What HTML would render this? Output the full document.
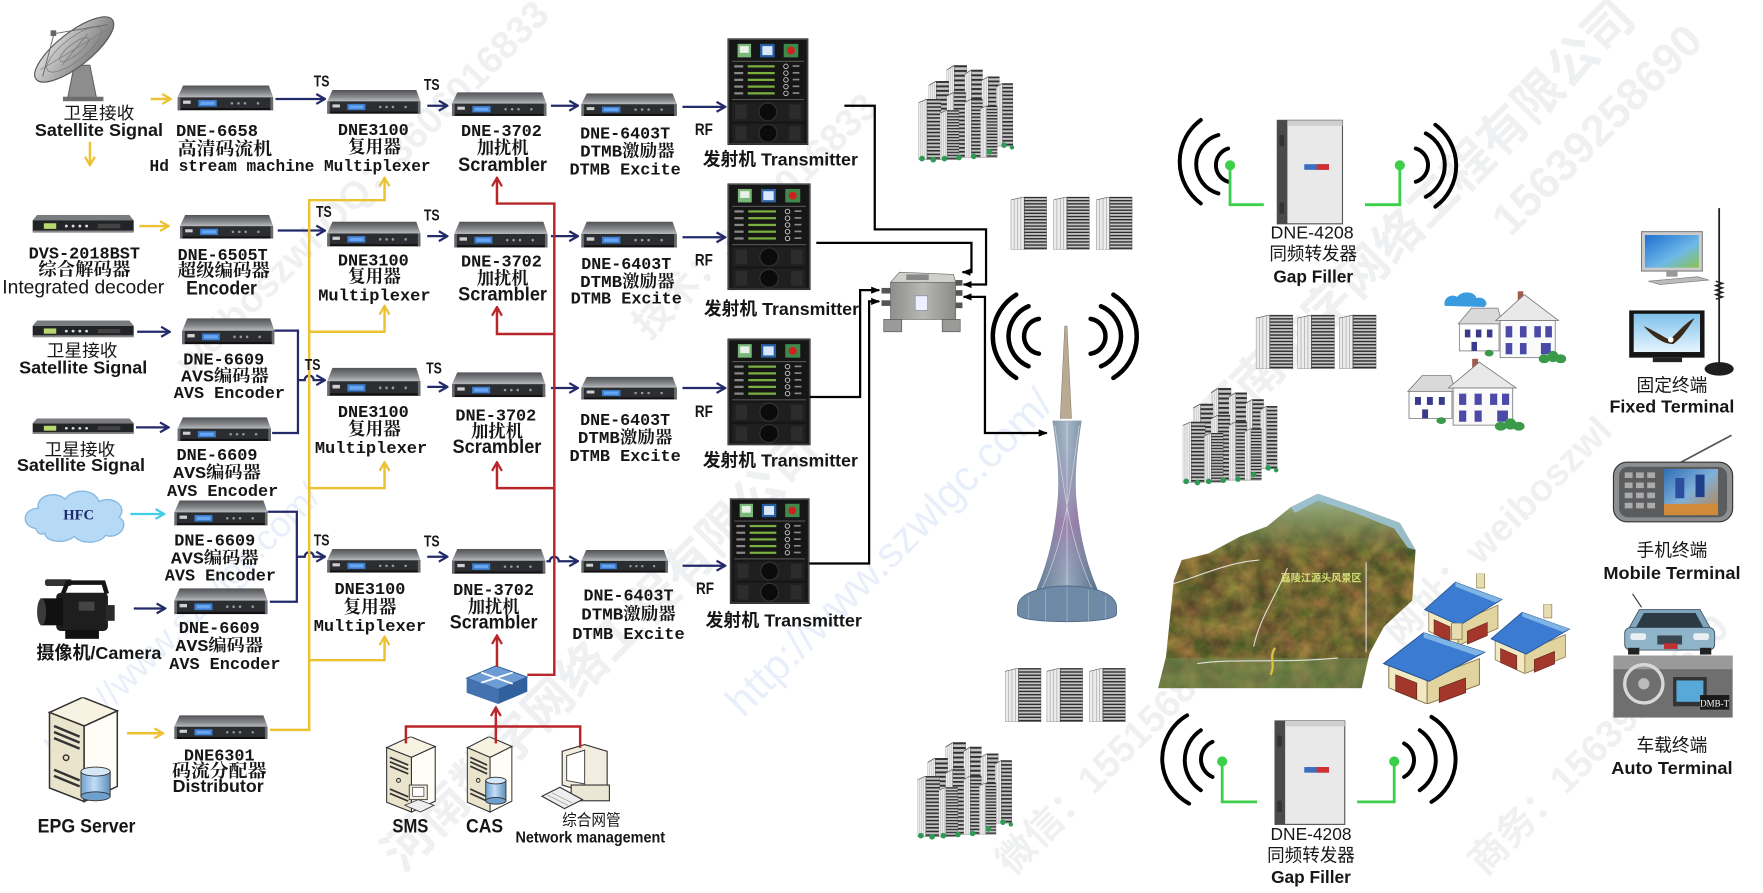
<!DOCTYPE html>
<html><head><meta charset="utf-8"><style>
html,body{margin:0;padding:0;background:#fff;width:1763px;height:893px;overflow:hidden;}
svg{display:block;overflow:hidden;}
.mo{font-family:"Liberation Mono","Noto Serif CJK SC",monospace;font-weight:bold;font-size:15px;fill:#161616;text-anchor:middle;}
.cs{font-family:"Liberation Serif","Noto Serif CJK SC",serif;font-weight:bold;font-size:16px;fill:#161616;text-anchor:middle;}
.sb{font-family:"Liberation Sans","Noto Sans CJK SC",sans-serif;font-weight:bold;font-size:16px;fill:#161616;text-anchor:middle;}
.sr{font-family:"Liberation Sans","Noto Sans CJK SC",sans-serif;font-size:15px;fill:#161616;text-anchor:middle;}
.ts{font-family:"Liberation Sans",sans-serif;font-weight:bold;font-size:14px;fill:#161616;text-anchor:middle;}
.wm{font-family:"Liberation Sans","Noto Sans CJK SC",sans-serif;font-weight:bold;font-size:40px;fill:#7d8a96;opacity:.12;text-anchor:middle;}
.wb{font-family:"Liberation Sans","Noto Sans CJK SC",sans-serif;font-size:38px;fill:#5a8ee0;opacity:.13;text-anchor:middle;}
</style></head><body>
<svg width="1763" height="893" viewBox="0 0 1568 794" preserveAspectRatio="none">
<defs>
<linearGradient id="gtop" x1="0" y1="0" x2="0" y2="1"><stop offset="0" stop-color="#505256"/><stop offset=".6" stop-color="#85878b"/><stop offset="1" stop-color="#b9bbbd"/></linearGradient>
<linearGradient id="gdish" x1="0" y1="0" x2="1" y2="1"><stop offset="0" stop-color="#e4e4e4"/><stop offset=".5" stop-color="#a9a9a9"/><stop offset="1" stop-color="#6d6d6d"/></linearGradient>
<linearGradient id="gcomb" x1="0" y1="0" x2="1" y2="0"><stop offset="0" stop-color="#8e8f8c"/><stop offset=".5" stop-color="#b7b8b4"/><stop offset="1" stop-color="#8a8b88"/></linearGradient>
<linearGradient id="gcyl" x1="0" y1="0" x2="1" y2="0"><stop offset="0" stop-color="#6f9fce"/><stop offset=".45" stop-color="#c3def5"/><stop offset="1" stop-color="#5d8dbd"/></linearGradient>
<linearGradient id="gtow" x1="0" y1="0" x2="1" y2="0"><stop offset="0" stop-color="#5d7690"/><stop offset=".5" stop-color="#a7b8c8"/><stop offset="1" stop-color="#4f6882"/></linearGradient>
<linearGradient id="gtowp" x1="0" y1="0" x2="0" y2="1"><stop offset="0" stop-color="#8fa3b8" stop-opacity="0"/><stop offset=".6" stop-color="#9b6fa3" stop-opacity=".7"/><stop offset="1" stop-color="#6f86a0" stop-opacity=".2"/></linearGradient>
<linearGradient id="gmon" x1="0" y1="0" x2="1" y2="1"><stop offset="0" stop-color="#1f6fcf"/><stop offset=".6" stop-color="#6fb8e8"/><stop offset="1" stop-color="#8bc34a"/></linearGradient>
<linearGradient id="gtv" x1="0" y1="0" x2="0" y2="1"><stop offset="0" stop-color="#7fc0ea"/><stop offset="1" stop-color="#e6f5ff"/></linearGradient>
<linearGradient id="gph" x1="0" y1="0" x2="1" y2="1"><stop offset="0" stop-color="#2f6fb8"/><stop offset=".5" stop-color="#7fb0d8"/><stop offset="1" stop-color="#c08040"/></linearGradient>
<linearGradient id="gmtop" x1="0" y1="0" x2="0" y2="1"><stop offset="0" stop-color="#8fb6c8"/><stop offset=".3" stop-color="#8fa070"/><stop offset="1" stop-color="#6c8a52" stop-opacity="0"/></linearGradient>
<pattern id="hs" width="4" height="3" patternUnits="userSpaceOnUse"><rect width="4" height="3" fill="#c4c4c4"/><rect y="0" width="4" height="1.3" fill="#2e2e2e"/></pattern>
<filter id="terr" x="0" y="0" width="100%" height="100%" color-interpolation-filters="sRGB"><feTurbulence type="fractalNoise" baseFrequency="0.06" numOctaves="4" seed="11"/><feColorMatrix type="matrix" values="0.5 0 0 0 0.2  0.3 0.2 0 0 0.15  0.15 0 0 0 0.12  0 0 0 0 1"/></filter>
<clipPath id="mapc"><polygon points="1030,612 1037,584 1044,516 1051,498 1075,492 1103,477 1127,468 1148,451 1172,439 1207,451 1245,465 1259,489 1256,534 1231,557 1218,581 1211,612"/></clipPath>

<marker id="mn" viewBox="0 0 10 10" refX="9" refY="5" markerWidth="11" markerHeight="11" markerUnits="userSpaceOnUse" orient="auto"><path d="M2,1 L9,5 L2,9" fill="none" stroke="#232a6a" stroke-width="1.8"/></marker>
<marker id="my" viewBox="0 0 10 10" refX="9" refY="5" markerWidth="11" markerHeight="11" markerUnits="userSpaceOnUse" orient="auto"><path d="M2,1 L9,5 L2,9" fill="none" stroke="#ecc232" stroke-width="1.8"/></marker>
<marker id="mr" viewBox="0 0 10 10" refX="9" refY="5" markerWidth="11" markerHeight="11" markerUnits="userSpaceOnUse" orient="auto"><path d="M2,1 L9,5 L2,9" fill="none" stroke="#b8262a" stroke-width="1.8"/></marker>
<marker id="mc" viewBox="0 0 10 10" refX="9" refY="5" markerWidth="11" markerHeight="11" markerUnits="userSpaceOnUse" orient="auto"><path d="M2,1 L9,5 L2,9" fill="none" stroke="#3fcde8" stroke-width="1.8"/></marker>
<marker id="mk" viewBox="0 0 10 10" refX="9" refY="5" markerWidth="8" markerHeight="8" markerUnits="userSpaceOnUse" orient="auto-start-reverse"><path d="M0,1 L10,5 L0,9 z" fill="#000"/></marker>

<symbol id="rk" viewBox="0 0 88 24" preserveAspectRatio="none">
<polygon points="5,0 84,0 88,11 0,11" fill="url(#gtop)"/>
<rect x="0" y="11" width="88" height="11" fill="#2b2d31"/>
<rect x="0" y="21" width="88" height="2" fill="#111"/>
<rect x="0" y="11" width="2.5" height="12" fill="#6a6c70"/>
<rect x="85.5" y="11" width="2.5" height="12" fill="#6a6c70"/>
<rect x="5" y="14" width="7" height="3" fill="#d0d0d0"/>
<rect x="19" y="13.5" width="17" height="6" fill="#3b7fd3"/>
<rect x="21" y="15" width="13" height="3" fill="#6aa6ef"/>
<circle cx="50" cy="16.5" r="1.2" fill="#999"/><circle cx="56" cy="16.5" r="1.2" fill="#999"/><circle cx="62" cy="16.5" r="1.2" fill="#999"/><circle cx="74" cy="16.5" r="1.2" fill="#999"/>
</symbol>

<symbol id="srx" viewBox="0 0 90 16" preserveAspectRatio="none">
<polygon points="4,0 86,0 90,5 0,5" fill="#7a7c80"/>
<rect x="0" y="5" width="90" height="10" fill="#232427"/>
<rect x="0" y="14" width="90" height="2" fill="#8a8a8a"/>
<rect x="10" y="7.5" width="11" height="5" fill="#b8d870"/>
<circle cx="30" cy="10" r="1.3" fill="#ddd"/><circle cx="36" cy="10" r="1.3" fill="#ddd"/><circle cx="42" cy="10" r="1.3" fill="#ddd"/><circle cx="48" cy="10" r="1.3" fill="#ddd"/>
<rect x="58" y="8" width="20" height="4" fill="#444"/>
</symbol>

<symbol id="tx" viewBox="0 0 72 95" preserveAspectRatio="none">
<rect x="0" y="0" width="72" height="95" fill="#161616"/>
<rect x="1" y="1" width="70" height="93" fill="none" stroke="#4a4a4a"/>
<rect x="9" y="5" width="12" height="12" fill="#7ab87a"/><rect x="11" y="7" width="8" height="6" fill="#e8f0e8"/>
<rect x="29" y="5" width="13" height="12" fill="#2a5fa8"/><rect x="31" y="7" width="9" height="8" fill="#d8e8f8"/>
<rect x="50" y="5" width="13" height="12" fill="#3f8a4a"/><circle cx="56.5" cy="11" r="3.5" fill="#d02020"/>
<rect x="4" y="20" width="64" height="1" fill="#555"/>
<g fill="#7ab040"><rect x="18" y="24" width="24" height="2"/><rect x="18" y="30" width="24" height="2"/><rect x="18" y="36" width="24" height="2"/><rect x="18" y="42" width="24" height="2"/><rect x="18" y="48" width="24" height="2"/></g>
<g fill="#888"><rect x="6" y="24" width="8" height="2"/><rect x="6" y="30" width="8" height="2"/><rect x="6" y="36" width="8" height="2"/><rect x="6" y="42" width="8" height="2"/><rect x="6" y="48" width="8" height="2"/>
<rect x="58" y="24" width="6" height="1.5"/><rect x="58" y="30" width="6" height="1.5"/><rect x="58" y="36" width="6" height="1.5"/><rect x="58" y="42" width="6" height="1.5"/><rect x="58" y="48" width="6" height="1.5"/></g>
<g fill="none" stroke="#ccc" stroke-width=".8"><circle cx="52" cy="25" r="2"/><circle cx="52" cy="31" r="2"/><circle cx="52" cy="37" r="2"/><circle cx="52" cy="43" r="2"/><circle cx="52" cy="49" r="2"/></g>
<rect x="4" y="54" width="64" height="1" fill="#555"/>
<rect x="4" y="57" width="64" height="17" fill="#1f1f1f"/>
<rect x="7" y="59" width="10" height="13" fill="#2c2c2c"/><rect x="55" y="59" width="10" height="13" fill="#2c2c2c"/>
<circle cx="36" cy="65.5" r="8" fill="#0b0b0b" stroke="#333"/>
<rect x="4" y="76" width="64" height="17" fill="#1f1f1f"/>
<rect x="7" y="78" width="10" height="13" fill="#2c2c2c"/><rect x="55" y="78" width="10" height="13" fill="#2c2c2c"/>
<circle cx="36" cy="84.5" r="8" fill="#0b0b0b" stroke="#333"/>
</symbol>

<symbol id="bd" viewBox="0 0 32 50" preserveAspectRatio="none">
<polygon points="0,3 12,0 12,50 0,50" fill="#ececec" stroke="#555" stroke-width=".6"/>
<g stroke="#999" stroke-width=".5"><line x1="3" y1="3" x2="3" y2="50"/><line x1="6" y1="2" x2="6" y2="50"/><line x1="9" y1="1" x2="9" y2="50"/></g>
<rect x="12" y="0" width="20" height="50" fill="url(#hs)" stroke="#444" stroke-width=".6"/>
</symbol>

<g id="cl">
<use href="#bd" x="842" y="58" width="18" height="70"/>
<use href="#bd" x="858" y="62" width="16" height="68"/>
<use href="#bd" x="873" y="68" width="16" height="60"/>
<use href="#bd" x="886" y="74" width="15" height="56"/>
<use href="#bd" x="826" y="72" width="18" height="66"/>
<use href="#bd" x="842" y="82" width="17" height="58"/>
<use href="#bd" x="858" y="88" width="16" height="52"/>
<use href="#bd" x="872" y="94" width="15" height="46"/>
<use href="#bd" x="817" y="88" width="20" height="54"/>
<use href="#bd" x="836" y="98" width="17" height="44"/>
<g fill="#2f9a55"><circle cx="820" cy="141" r="2.5"/><circle cx="830" cy="142" r="2.5"/><circle cx="840" cy="141" r="2.5"/><circle cx="853" cy="140" r="2.5"/><circle cx="866" cy="139" r="2.5"/><circle cx="880" cy="135" r="2.5"/><circle cx="893" cy="129" r="2.5"/><circle cx="900" cy="131" r="2"/></g>
</g>

<symbol id="sv" viewBox="0 0 50 70" preserveAspectRatio="none">
<polygon points="3,10 25,0 48,9 26,19" fill="#f7f2e2" stroke="#333" stroke-width="1"/>
<polygon points="3,10 26,19 26,69 3,60" fill="#ebe4cd" stroke="#333" stroke-width="1"/>
<polygon points="26,19 48,9 48,59 26,69" fill="#fffdf6" stroke="#333" stroke-width="1"/>
<g stroke="#333" stroke-width="1.6"><line x1="6" y1="19" x2="23" y2="26"/><line x1="6" y1="23" x2="23" y2="30"/><line x1="6" y1="27" x2="23" y2="34"/><line x1="6" y1="48" x2="23" y2="55"/><line x1="6" y1="52" x2="23" y2="59"/></g>
<circle cx="14" cy="40" r="1.8" fill="none" stroke="#333"/>
</symbol>

<symbol id="wh" viewBox="0 0 100 65" preserveAspectRatio="none">
<polygon points="2,30 14,16 38,16 42,30" fill="#d9d9d9" stroke="#777" stroke-width=".7"/>
<rect x="3" y="30" width="36" height="24" fill="#fff" stroke="#777" stroke-width=".7"/>
<g fill="#3a3a8c"><rect x="8" y="35" width="5" height="7"/><rect x="18" y="35" width="5" height="7"/><rect x="28" y="35" width="5" height="7"/><rect x="14" y="46" width="5" height="8"/></g>
<rect x="56" y="1" width="5" height="10" fill="#a05a4a"/>
<polygon points="36,27 62,4 93,27" fill="#e9e9e9" stroke="#777" stroke-width=".7"/>
<rect x="40" y="27" width="50" height="33" fill="#fafafa" stroke="#777" stroke-width=".7"/>
<g fill="#4b4aa8"><rect x="45" y="32" width="6" height="10"/><rect x="58" y="32" width="6" height="10"/><rect x="71" y="32" width="6" height="10"/><rect x="81" y="32" width="6" height="10"/><rect x="45" y="47" width="6" height="10"/><rect x="58" y="47" width="6" height="10"/><rect x="77" y="47" width="9" height="10"/></g>
<g fill="#3a9a4a"><ellipse cx="80" cy="61" rx="5" ry="4"/><ellipse cx="88" cy="59" rx="5" ry="5"/><ellipse cx="95" cy="61" rx="5" ry="4"/><ellipse cx="30" cy="56" rx="4" ry="3"/></g>
</symbol>

<symbol id="bh" viewBox="0 0 60 50" preserveAspectRatio="none">
<polygon points="4,24 26,34 26,50 4,40" fill="#f2e9c2" stroke="#8a7a50" stroke-width=".6"/>
<polygon points="26,34 56,22 56,38 26,50" fill="#e2d49f" stroke="#8a7a50" stroke-width=".6"/>
<rect x="40" y="0" width="6" height="10" fill="#e8ddb0" stroke="#8a7a50" stroke-width=".5"/>
<polygon points="1,25 24,6 59,18 27,36" fill="#3b7bd2" stroke="#24518e" stroke-width=".6"/>
<polygon points="24,6 59,18 54,20 24,9" fill="#7fb5e6"/>
<polygon points="8,32 20,37 20,47 8,42" fill="#a3372c" stroke="#6a2a20" stroke-width=".5"/>
<polygon points="33,40 48,34 48,43 33,49" fill="#a3372c" stroke="#6a2a20" stroke-width=".5"/>
</symbol>
</defs>

<rect x="0" y="0" width="1568" height="794" fill="#fff"/>

<!-- watermarks (kept inside frame) -->
<g>
<text class="wm" x="545" y="590" transform="rotate(-45 545 590)" style="font-size:44px">河南数字网络工程有限公司</text>
<text class="wb" x="800" y="500" transform="rotate(-45 800 500)">http://www.szwlgc.com/</text>
<text class="wm" x="330" y="175" transform="rotate(-45 330 175)" style="font-size:34px">weiboszwl QQ：3606016833</text>
<text class="wm" x="1270" y="205" transform="rotate(-45 1270 205)" style="font-size:44px">河南数字网络工程有限公司</text>
<text class="wm" x="1430" y="125" transform="rotate(-45 1430 125)">15639258690</text>
<text class="wm" x="1010" y="670" transform="rotate(-45 1010 670)" style="font-size:34px">微信：15515688892</text>
<text class="wb" x="170" y="560" transform="rotate(-45 170 560)" style="font-size:32px">http://www.szwlgc.com/</text>
<text class="wm" x="1340" y="480" transform="rotate(-45 1340 480)" style="font-size:34px">网址：weiboszwl</text>
<text class="wm" x="680" y="200" transform="rotate(-45 680 200)" style="font-size:34px">技术：3606016833</text>
<text class="wm" x="1430" y="670" transform="rotate(-45 1430 670)" style="font-size:34px">商务：15639258690</text>
</g>

<!-- ===== LEFT: sources ===== -->
<g>
<polygon points="66,58 80,58 86,88 60,88" fill="#8d8d8d" stroke="#555" stroke-width=".8"/>
<rect x="56" y="86" width="36" height="4" fill="#6d6d6d"/>
<ellipse cx="66" cy="44" rx="43" ry="15" transform="rotate(-38 66 44)" fill="url(#gdish)" stroke="#555" stroke-width="1"/>
<g stroke="#777" stroke-width=".6" fill="none"><ellipse cx="66" cy="44" rx="30" ry="10" transform="rotate(-38 66 44)"/><ellipse cx="66" cy="44" rx="16" ry="5" transform="rotate(-38 66 44)"/><line x1="36" y1="62" x2="96" y2="26"/><line x1="55" y1="58" x2="78" y2="30"/></g>
<g stroke="#666" stroke-width=".8"><line x1="38" y1="68" x2="48" y2="30"/><line x1="96" y1="22" x2="48" y2="30"/></g>
<rect x="45" y="27" width="5" height="5" fill="#666"/>
</g>

<use href="#rk" x="158" y="76" width="85" height="23"/>
<use href="#rk" x="291" y="80" width="83" height="22"/>
<use href="#rk" x="402" y="82" width="84" height="22"/>
<use href="#rk" x="517" y="83" width="85" height="21"/>

<use href="#srx" x="29" y="191" width="90" height="16"/>
<use href="#rk" x="160" y="191" width="83" height="22"/>
<use href="#rk" x="291" y="197" width="83" height="23"/>
<use href="#rk" x="404" y="197" width="83" height="24"/>
<use href="#rk" x="517" y="197" width="85" height="24"/>

<use href="#srx" x="29" y="285" width="90" height="15"/>
<use href="#rk" x="162" y="283" width="82" height="24"/>
<use href="#rk" x="291" y="327" width="83" height="26"/>
<use href="#rk" x="402" y="331" width="83" height="23"/>
<use href="#rk" x="517" y="335" width="85" height="21"/>

<use href="#srx" x="29" y="372" width="90" height="14"/>
<use href="#rk" x="158" y="371" width="83" height="22"/>

<use href="#rk" x="155" y="445" width="83" height="23"/>
<use href="#rk" x="291" y="488" width="83" height="22"/>
<use href="#rk" x="402" y="488" width="83" height="23"/>
<use href="#rk" x="517" y="489" width="77" height="21"/>

<use href="#rk" x="155" y="523" width="83" height="24"/>
<use href="#rk" x="155" y="636" width="83" height="22"/>

<use href="#tx" x="647" y="34" width="72" height="95"/>
<use href="#tx" x="647" y="163" width="74" height="95"/>
<use href="#tx" x="647" y="301" width="74" height="95"/>
<use href="#tx" x="649" y="443" width="71" height="94"/>

<g>
<path d="M32,470 C18,468 20,452 34,452 C32,440 50,436 58,444 C64,434 84,434 88,446 C100,440 114,450 106,460 C116,466 106,480 94,476 C88,484 72,484 66,477 C58,484 40,482 40,474 C36,476 33,474 32,470 Z" fill="#b6daf6" stroke="#86b8e2" stroke-width="1.2"/>
<text x="70" y="462" style="font-family:'Liberation Serif',serif;font-weight:bold;font-size:13px;fill:#1a2a6a;text-anchor:middle">HFC</text>
</g>

<g>
<rect x="40" y="515" width="24" height="6" rx="2" fill="#333"/>
<path d="M56,528 L60,518 L92,518 L95,528" fill="none" stroke="#151515" stroke-width="4"/>
<rect x="50" y="527" width="46" height="34" rx="4" fill="#1e1e1e"/>
<rect x="36" y="532" width="20" height="24" fill="#111"/>
<ellipse cx="37" cy="544" rx="4" ry="12" fill="#3a3a3a"/>
<rect x="94" y="538" width="8" height="14" fill="#2a2a2a"/>
<rect x="58" y="560" width="30" height="8" fill="#111"/>
<rect x="70" y="535" width="14" height="8" fill="#444"/>
</g>

<use href="#sv" x="40" y="620" width="67" height="94"/>
<g>
<rect x="72" y="686" width="26" height="22" fill="url(#gcyl)" stroke="#333" stroke-width=".8"/>
<ellipse cx="85" cy="708" rx="13" ry="4" fill="#6f9fce" stroke="#333" stroke-width=".8"/>
<ellipse cx="85" cy="686" rx="13" ry="4" fill="#d6e8f8" stroke="#333" stroke-width=".8"/>
</g>

<use href="#sv" x="341" y="655" width="48" height="68"/>
<g>
<rect x="364" y="698" width="16" height="13" fill="#f3eee0" stroke="#333" stroke-width=".8"/>
<rect x="367" y="700" width="10" height="8" fill="#fff" stroke="#333" stroke-width=".6"/>
<polygon points="360,716 372,711 386,716 374,722" fill="#eee" stroke="#333" stroke-width=".7"/>
</g>
<use href="#sv" x="413" y="655" width="44" height="68"/>
<g>
<rect x="432" y="694" width="18" height="18" fill="url(#gcyl)" stroke="#333" stroke-width=".8"/>
<ellipse cx="441" cy="712" rx="9" ry="3" fill="#6f9fce" stroke="#333" stroke-width=".8"/>
<ellipse cx="441" cy="694" rx="9" ry="3" fill="#d6e8f8" stroke="#333" stroke-width=".8"/>
</g>
<g>
<polygon points="500,668 520,662 540,668 540,698 520,704 500,698" fill="#f2ede0" stroke="#333" stroke-width="1"/>
<polygon points="504,672 520,667 520,697 504,694" fill="#fff" stroke="#333" stroke-width=".8"/>
<rect x="508" y="698" width="34" height="14" fill="#ece6d4" stroke="#333" stroke-width="1"/>
<polygon points="482,708 498,700 518,711 502,719" fill="#eee" stroke="#333" stroke-width="1"/>
<g stroke="#888" stroke-width=".5"><line x1="487" y1="707" x2="505" y2="716"/><line x1="491" y1="705" x2="509" y2="714"/></g>
</g>

<g>
<polygon points="415,603 441,592 469,602 443,613" fill="#6d9bd3" stroke="#2e5a93" stroke-width=".8"/>
<polygon points="415,603 443,613 443,626 415,616" fill="#4472b0"/>
<polygon points="443,613 469,602 469,615 443,626" fill="#31609e"/>
<g stroke="#fff" stroke-width="1.6" fill="none"><line x1="428" y1="598" x2="456" y2="608"/><line x1="428" y1="607" x2="456" y2="598"/></g>
</g>

<!-- ===== CONNECTORS ===== -->
<g fill="none" stroke="#232a6a" stroke-width="2" marker-end="url(#mn)">
<path d="M245,88 H289"/><path d="M380,94 H398"/><path d="M490,94 H514"/><path d="M607,95 H645"/>
<path d="M247,205 H289"/><path d="M380,210 H398"/><path d="M490,210 H514"/><path d="M607,211 H645"/>
<path d="M122,295 H151"/><path d="M265,338 H271 A4,4 0 0 1 279,338 H289"/><path d="M380,344 H398"/><path d="M490,345 H514"/><path d="M607,345 H645"/>
<path d="M121,380 H150"/>
<path d="M264,495 H271 A4,4 0 0 1 279,495 H289"/><path d="M380,495 H398"/><path d="M486,499 H489 A4,4 0 0 1 497,499 H514"/><path d="M607,503 H645"/>
<path d="M119,541 H147"/>
</g>
<g fill="none" stroke="#232a6a" stroke-width="2">
<path d="M244,294 H265 V385 H242"/>
<path d="M238,455 H264 V535 H240"/>
</g>
<path d="M116,457 H146" fill="none" stroke="#3fcde8" stroke-width="2" marker-end="url(#mc)"/>

<g fill="none" stroke="#ecc232" stroke-width="2.2">
<path d="M134,88 H152" marker-end="url(#my)"/>
<path d="M80,126 V147" marker-end="url(#my)"/>
<path d="M124,201 H150" marker-end="url(#my)"/>
<path d="M113,652 H145" marker-end="url(#my)"/>
<path d="M240,649 H275 V178 H342 V158" marker-end="url(#my)"/>
<path d="M275,295 H342 V272" marker-end="url(#my)"/>
<path d="M275,434 H342 V411" marker-end="url(#my)"/>
<path d="M275,587 H342 V566" marker-end="url(#my)"/>
</g>

<g fill="none" stroke="#b8262a" stroke-width="2.2">
<path d="M469,600 H493 V181 H442 V158" marker-end="url(#mr)"/>
<path d="M493,297 H442 V273" marker-end="url(#mr)"/>
<path d="M493,434 H442 V411" marker-end="url(#mr)"/>
<path d="M442,593 V565" marker-end="url(#mr)"/>
<path d="M361,661 V646 H516 V665"/>
<path d="M441,661 V646"/>
<path d="M441,646 V629" marker-end="url(#mr)"/>
</g>

<g fill="none" stroke="#000" stroke-width="2">
<path d="M751,94 H778 V204 H877 V253 H857" marker-end="url(#mk)"/>
<path d="M726,216 H864 V242 H856" marker-end="url(#mk)"/>
<path d="M720,353 H765 V258 H782" marker-end="url(#mk)"/>
<path d="M720,501 H773 V268 H782" marker-end="url(#mk)"/>
<path d="M857,264 H876 V385 H931" marker-start="url(#mk)" marker-end="url(#mk)"/>
</g>

<!-- combiner -->
<g>
<polygon points="792,251 800,242 848,244 850,251" fill="#cfd0cc" stroke="#666" stroke-width=".6"/>
<rect x="792" y="251" width="58" height="33" fill="url(#gcomb)" stroke="#666" stroke-width=".6"/>
<g fill="#555"><rect x="784" y="256" width="8" height="5"/><rect x="784" y="267" width="8" height="5"/><rect x="850" y="249" width="6" height="5"/><rect x="850" y="258" width="6" height="5"/><rect x="850" y="269" width="6" height="5"/></g>
<rect x="786" y="284" width="16" height="11" fill="#9a9b98" stroke="#555" stroke-width=".6"/>
<rect x="838" y="284" width="16" height="11" fill="#9a9b98" stroke="#555" stroke-width=".6"/>
<rect x="814" y="263" width="11" height="13" fill="#eef0ff" stroke="#88a" stroke-width=".6"/>
<rect x="806" y="244" width="20" height="5" fill="#888"/>
</g>

<!-- tower -->
<g>
<polygon points="947,290 949,290 953,372 943,372" fill="#b9aa92" stroke="#8a7d6a" stroke-width=".5"/>
<path d="M936,374 L962,374 C958,400 956,420 957,440 C960,480 968,505 977,526 L921,526 C930,505 938,480 941,440 C942,420 940,400 936,374 Z" fill="url(#gtow)"/>
<path d="M936,374 L962,374 C958,400 956,420 957,440 C960,480 968,505 977,526 L921,526 C930,505 938,480 941,440 C942,420 940,400 936,374 Z" fill="url(#gtowp)"/>
<g stroke="#dfe7ef" stroke-width=".6" fill="none" opacity=".8"><path d="M938,378 C946,430 950,480 972,525"/><path d="M960,378 C952,430 948,480 926,525"/><line x1="949" y1="376" x2="949" y2="525"/></g>
<path d="M905,540 C905,526 930,521 949,521 C968,521 993,526 993,540 L993,546 C993,555 905,555 905,546 Z" fill="#6f8aa6" stroke="#4f6882" stroke-width=".8"/>
<g stroke="#b5c4d2" stroke-width=".5"><line x1="915" y1="530" x2="915" y2="550"/><line x1="930" y1="525" x2="930" y2="552"/><line x1="949" y1="522" x2="949" y2="553"/><line x1="968" y1="525" x2="968" y2="552"/><line x1="983" y1="530" x2="983" y2="550"/></g>
</g>
<g fill="none" stroke="#000" stroke-width="4" stroke-linecap="round">
<path d="M924,283.5 A15.7,15.7 0 0 0 924,314.5"/>
<path d="M914.8,272.3 A28.9,28.9 0 0 0 914.8,325.7"/>
<path d="M903.8,262 A43.3,43.3 0 0 0 903.8,336"/>
<path d="M970,283.5 A15.7,15.7 0 0 1 970,314.5"/>
<path d="M979.2,272.3 A28.9,28.9 0 0 1 979.2,325.7"/>
<path d="M990.2,262 A43.3,43.3 0 0 1 990.2,336"/>
</g>

<!-- buildings -->
<use href="#cl"/>
<use href="#cl" transform="translate(-1,602)"/>
<use href="#cl" transform="translate(235,287)"/>
<use href="#bd" x="899" y="175" width="32" height="47"/><use href="#bd" x="937" y="175" width="32" height="47"/><use href="#bd" x="975" y="175" width="32" height="47"/>
<use href="#bd" x="1117" y="280" width="33" height="48"/><use href="#bd" x="1154" y="280" width="33" height="48"/><use href="#bd" x="1191" y="280" width="33" height="48"/>
<use href="#bd" x="894" y="594" width="32" height="48"/><use href="#bd" x="931" y="594" width="32" height="48"/><use href="#bd" x="969" y="594" width="32" height="48"/>

<!-- gap filler top -->
<g>
<rect x="1136" y="107" width="58" height="92" fill="#e9e9e9" stroke="#555" stroke-width="1"/>
<rect x="1136" y="107" width="9" height="92" fill="#4a4a4a"/>
<rect x="1145" y="107" width="49" height="5" fill="#cfcfcf"/>
<rect x="1160" y="146" width="22" height="5" fill="#3a6fc0"/><rect x="1171" y="146" width="11" height="5" fill="#d03030"/>
<rect x="1138" y="120" width="4" height="10" fill="#333"/><rect x="1138" y="180" width="4" height="10" fill="#333"/>
</g>
<g fill="none" stroke="#000" stroke-width="3.5" stroke-linecap="round">
<path d="M1068,106.7 A46,46 0 0 0 1068,180.9"/>
<path d="M1083.6,120 A27,27 0 0 0 1083.6,172"/>
<path d="M1092.3,132 A15.5,15.5 0 0 0 1092.3,161.6"/>
<path d="M1259.2,132 A15.5,15.5 0 0 1 1259.2,161.6"/>
<path d="M1268.1,118.6 A32,32 0 0 1 1268.1,175"/>
<path d="M1276.6,111 A45,45 0 0 1 1276.6,183.8"/>
</g>
<g fill="none" stroke="#3cd04a" stroke-width="2.5"><path d="M1094,147 V182 H1124"/><path d="M1245,147 V182 H1214"/></g>
<g fill="#3cd04a"><circle cx="1094" cy="147" r="4.5"/><circle cx="1245" cy="147" r="4.5"/></g>

<!-- gap filler bottom -->
<g>
<rect x="1134" y="641" width="62" height="92" fill="#e9e9e9" stroke="#555" stroke-width="1"/>
<rect x="1134" y="641" width="9" height="92" fill="#4a4a4a"/>
<rect x="1143" y="641" width="53" height="5" fill="#cfcfcf"/>
<rect x="1160" y="682" width="22" height="5" fill="#3a6fc0"/><rect x="1171" y="682" width="11" height="5" fill="#d03030"/>
<rect x="1136" y="654" width="4" height="10" fill="#333"/><rect x="1136" y="712" width="4" height="10" fill="#333"/>
</g>
<g fill="none" stroke="#000" stroke-width="3.5" stroke-linecap="round">
<path d="M1055.8,636 A45,45 0 0 0 1057.6,714.5"/>
<path d="M1068,649.3 A32,32 0 0 0 1068,702.6"/>
<path d="M1078.4,659.6 A17,17 0 0 0 1078.4,690.8"/>
<path d="M1248.8,661 A17,17 0 0 1 1248.8,690.8"/>
<path d="M1262.7,649.3 A32,32 0 0 1 1262.7,702.6"/>
<path d="M1273.1,637.4 A44,44 0 0 1 1273.1,713"/>
</g>
<g fill="none" stroke="#3cd04a" stroke-width="2.5"><path d="M1087,677 V713 H1118"/><path d="M1240,677 V713 H1207"/></g>
<g fill="#3cd04a"><circle cx="1087" cy="677" r="4.5"/><circle cx="1240" cy="677" r="4.5"/></g>

<!-- white houses + cloud -->
<g>
<path d="M1285,272 C1283,264 1292,261 1296,264 C1300,258 1312,259 1313,265 C1320,263 1325,270 1320,273 Z" fill="#3b9be0"/>
<use href="#wh" x="1295" y="258" width="98" height="65"/>
<use href="#wh" x="1250" y="318" width="106" height="65"/>
</g>

<!-- map -->
<g clip-path="url(#mapc)">
<rect x="1025" y="435" width="240" height="180" filter="url(#terr)"/>
<rect x="1025" y="435" width="240" height="60" fill="url(#gmtop)"/>
<polygon points="1148,451 1172,439 1207,451 1245,465 1259,489 1252,487 1240,470 1205,456 1172,445 1152,456" fill="#9cc3d6" opacity=".9"/>
<rect x="1030" y="585" width="190" height="30" fill="#6d8f55" opacity=".5"/>
<g fill="none" stroke="#f2f2f2" stroke-width="1" opacity=".85"><path d="M1040,520 C1060,515 1090,500 1120,498"/><path d="M1065,590 C1100,585 1140,590 1190,585"/><path d="M1145,505 C1135,530 1120,550 1115,575"/><path d="M1215,500 L1215,580"/></g>
<path d="M1130,600 C1135,590 1128,585 1134,576" fill="none" stroke="#e0c040" stroke-width="2"/>
</g>
<text x="1175" y="517" style="font-family:'Noto Sans CJK SC',sans-serif;font-size:9px;font-weight:bold;fill:#d7e07a;text-anchor:middle">嘉陵江源头风景区</text>

<!-- blue houses -->
<use href="#bh" x="1266" y="510" width="71" height="64"/>
<use href="#bh" x="1325" y="537" width="72" height="62"/>
<use href="#bh" x="1229" y="554" width="93" height="72"/>

<!-- fixed terminal -->
<g>
<rect x="1460" y="206" width="54" height="35" fill="#ccc" stroke="#666" stroke-width=".8"/>
<rect x="1463" y="209" width="48" height="29" fill="url(#gmon)"/>
<rect x="1482" y="241" width="10" height="5" fill="#999"/>
<polygon points="1466,250 1510,246 1520,249 1476,253" fill="#bbb" stroke="#777" stroke-width=".5"/>
<rect x="1449" y="276" width="67" height="42" fill="#151515"/>
<rect x="1453" y="279" width="59" height="34" fill="url(#gtv)"/>
<path d="M1462,290 C1475,296 1480,300 1485,302 C1492,296 1500,286 1507,283 C1500,294 1494,302 1488,306 C1480,306 1470,300 1462,290 Z" fill="#3a2a1a"/>
<circle cx="1486" cy="302" r="2.5" fill="#fff"/>
<rect x="1470" y="318" width="26" height="4" fill="#222"/>
<line x1="1529" y1="185" x2="1529" y2="324" stroke="#222" stroke-width="1.6"/>
<path d="M1526,250 L1532,252 L1526,254 L1532,256 L1526,258 L1532,260 L1526,262 L1532,264 L1526,266" fill="none" stroke="#222" stroke-width="1.3"/>
<ellipse cx="1529" cy="328" rx="13" ry="6" fill="#1e1e1e"/>
</g>

<!-- mobile phone -->
<g>
<line x1="1495" y1="411" x2="1540" y2="387" stroke="#555" stroke-width="1.5"/>
<rect x="1435" y="411" width="106" height="53" rx="12" fill="#8c8e90" stroke="#333" stroke-width="1"/>
<rect x="1440" y="415" width="96" height="45" rx="8" fill="#5a5c5e"/>
<g fill="#aaa"><rect x="1445" y="420" width="7" height="5"/><rect x="1455" y="420" width="7" height="5"/><rect x="1465" y="420" width="7" height="5"/><rect x="1445" y="429" width="7" height="5"/><rect x="1455" y="429" width="7" height="5"/><rect x="1465" y="429" width="7" height="5"/><rect x="1445" y="438" width="7" height="5"/><rect x="1455" y="438" width="7" height="5"/><rect x="1465" y="438" width="7" height="5"/><rect x="1445" y="447" width="7" height="5"/><rect x="1455" y="447" width="7" height="5"/><rect x="1465" y="447" width="7" height="5"/></g>
<rect x="1480" y="417" width="48" height="41" fill="url(#gph)"/>
<rect x="1490" y="425" width="8" height="18" fill="#2a4fa0"/><rect x="1508" y="422" width="8" height="20" fill="#1f3f8a"/>
<rect x="1480" y="448" width="48" height="10" fill="#d08a3a"/>
</g>

<!-- car -->
<g>
<path d="M1458,542 L1512,542 L1522,560 L1448,560 Z" fill="#7fa5bd" stroke="#456" stroke-width=".8"/>
<path d="M1462,545 L1508,545 L1515,558 L1455,558 Z" fill="#2c3a44"/>
<rect x="1445" y="558" width="80" height="20" rx="5" fill="#8fb3c8" stroke="#456" stroke-width=".8"/>
<rect x="1450" y="563" width="14" height="6" rx="2" fill="#e8eef2"/><rect x="1506" y="563" width="14" height="6" rx="2" fill="#e8eef2"/>
<rect x="1474" y="565" width="22" height="8" fill="#3a4650"/>
<rect x="1480" y="572" width="12" height="5" fill="#c03030"/>
<rect x="1448" y="576" width="10" height="6" fill="#222"/><rect x="1512" y="576" width="10" height="6" fill="#222"/>
<line x1="1460" y1="540" x2="1452" y2="528" stroke="#333" stroke-width="1"/>
</g>
<g>
<rect x="1435" y="583" width="106" height="55" fill="#6f6f6f"/>
<rect x="1435" y="583" width="106" height="12" fill="#9a9a9a"/>
<circle cx="1462" cy="608" r="17" fill="none" stroke="#d8d8d8" stroke-width="3"/>
<circle cx="1462" cy="608" r="5" fill="#bbb"/>
<rect x="1488" y="602" width="30" height="26" fill="#333"/>
<rect x="1491" y="605" width="24" height="19" fill="#58a8d8"/>
<rect x="1512" y="618" width="26" height="13" fill="#1a1a1a"/>
<text x="1525" y="628" style="font-family:'Liberation Serif',serif;font-size:8px;fill:#fff;text-anchor:middle">DMB-T</text>
</g>

<!-- ===== TEXT ===== -->
<text class="sr" x="88" y="106" textLength="63" lengthAdjust="spacingAndGlyphs">卫星接收</text>
<text class="sb" x="88" y="121" textLength="114" lengthAdjust="spacingAndGlyphs">Satellite Signal</text>
<text class="mo" x="193" y="121" textLength="73" lengthAdjust="spacingAndGlyphs">DNE-6658</text>
<text class="cs" x="200" y="138" textLength="84" lengthAdjust="spacingAndGlyphs">高清码流机</text>
<text class="mo" x="258" y="152" textLength="250" lengthAdjust="spacingAndGlyphs">Hd stream machine Multiplexer</text>
<text class="ts" x="286" y="77" textLength="14" lengthAdjust="spacingAndGlyphs">TS</text>
<text class="ts" x="384" y="80" textLength="14" lengthAdjust="spacingAndGlyphs">TS</text>
<text class="mo" x="332" y="120" textLength="63" lengthAdjust="spacingAndGlyphs">DNE3100</text>
<text class="cs" x="333" y="136" textLength="47" lengthAdjust="spacingAndGlyphs">复用器</text>
<text class="mo" x="446" y="121" textLength="72" lengthAdjust="spacingAndGlyphs">DNE-3702</text>
<text class="cs" x="447" y="137" textLength="46" lengthAdjust="spacingAndGlyphs">加扰机</text>
<text class="sb" x="447" y="152" textLength="79" lengthAdjust="spacingAndGlyphs" style="font-size:17px">Scrambler</text>
<text class="mo" x="556" y="123" textLength="80" lengthAdjust="spacingAndGlyphs">DNE-6403T</text>
<text class="mo" x="558" y="139" textLength="84" lengthAdjust="spacingAndGlyphs">DTMB激励器</text>
<text class="mo" x="556" y="155" textLength="99" lengthAdjust="spacingAndGlyphs">DTMB Excite</text>
<text class="ts" x="626" y="120" textLength="16" lengthAdjust="spacingAndGlyphs" style="font-size:15px">RF</text>
<text class="sb" x="694" y="147" textLength="138" lengthAdjust="spacingAndGlyphs">发射机 Transmitter</text>

<text class="mo" x="75" y="230" textLength="99" lengthAdjust="spacingAndGlyphs">DVS-2018BST</text>
<text class="cs" x="75" y="245" textLength="82" lengthAdjust="spacingAndGlyphs">综合解码器</text>
<text class="sr" x="74" y="261" textLength="144" lengthAdjust="spacingAndGlyphs" style="font-size:17px">Integrated decoder</text>
<text class="mo" x="198" y="231" textLength="80" lengthAdjust="spacingAndGlyphs">DNE-6505T</text>
<text class="cs" x="199" y="246" textLength="82" lengthAdjust="spacingAndGlyphs">超级编码器</text>
<text class="sb" x="197" y="262" textLength="63" lengthAdjust="spacingAndGlyphs" style="font-size:17px">Encoder</text>
<text class="ts" x="288" y="193" textLength="14" lengthAdjust="spacingAndGlyphs">TS</text>
<text class="ts" x="384" y="196" textLength="14" lengthAdjust="spacingAndGlyphs">TS</text>
<text class="mo" x="332" y="236" textLength="63" lengthAdjust="spacingAndGlyphs">DNE3100</text>
<text class="cs" x="333" y="251" textLength="47" lengthAdjust="spacingAndGlyphs">复用器</text>
<text class="mo" x="333" y="267" textLength="100" lengthAdjust="spacingAndGlyphs">Multiplexer</text>
<text class="mo" x="446" y="237" textLength="72" lengthAdjust="spacingAndGlyphs">DNE-3702</text>
<text class="cs" x="447" y="253" textLength="46" lengthAdjust="spacingAndGlyphs">加扰机</text>
<text class="sb" x="447" y="267" textLength="79" lengthAdjust="spacingAndGlyphs" style="font-size:17px">Scrambler</text>
<text class="mo" x="557" y="239" textLength="80" lengthAdjust="spacingAndGlyphs">DNE-6403T</text>
<text class="mo" x="558" y="255" textLength="84" lengthAdjust="spacingAndGlyphs">DTMB激励器</text>
<text class="mo" x="557" y="270" textLength="99" lengthAdjust="spacingAndGlyphs">DTMB Excite</text>
<text class="ts" x="626" y="236" textLength="16" lengthAdjust="spacingAndGlyphs" style="font-size:15px">RF</text>
<text class="sb" x="695" y="280" textLength="138" lengthAdjust="spacingAndGlyphs">发射机 Transmitter</text>

<text class="sr" x="73" y="317" textLength="63" lengthAdjust="spacingAndGlyphs">卫星接收</text>
<text class="sb" x="74" y="332" textLength="114" lengthAdjust="spacingAndGlyphs">Satellite Signal</text>
<text class="mo" x="199" y="324" textLength="72" lengthAdjust="spacingAndGlyphs">DNE-6609</text>
<text class="mo" x="200" y="339" textLength="78" lengthAdjust="spacingAndGlyphs">AVS编码器</text>
<text class="mo" x="204" y="354" textLength="99" lengthAdjust="spacingAndGlyphs">AVS Encoder</text>
<text class="ts" x="278" y="329" textLength="14" lengthAdjust="spacingAndGlyphs">TS</text>
<text class="ts" x="386" y="332" textLength="14" lengthAdjust="spacingAndGlyphs">TS</text>
<text class="mo" x="332" y="371" textLength="63" lengthAdjust="spacingAndGlyphs">DNE3100</text>
<text class="cs" x="333" y="387" textLength="47" lengthAdjust="spacingAndGlyphs">复用器</text>
<text class="mo" x="330" y="403" textLength="100" lengthAdjust="spacingAndGlyphs">Multiplexer</text>
<text class="mo" x="441" y="374" textLength="72" lengthAdjust="spacingAndGlyphs">DNE-3702</text>
<text class="cs" x="442" y="389" textLength="46" lengthAdjust="spacingAndGlyphs">加扰机</text>
<text class="sb" x="442" y="403" textLength="79" lengthAdjust="spacingAndGlyphs" style="font-size:17px">Scrambler</text>
<text class="mo" x="556" y="378" textLength="80" lengthAdjust="spacingAndGlyphs">DNE-6403T</text>
<text class="mo" x="556" y="394" textLength="84" lengthAdjust="spacingAndGlyphs">DTMB激励器</text>
<text class="mo" x="556" y="410" textLength="99" lengthAdjust="spacingAndGlyphs">DTMB Excite</text>
<text class="ts" x="626" y="371" textLength="16" lengthAdjust="spacingAndGlyphs" style="font-size:15px">RF</text>
<text class="sb" x="694" y="415" textLength="138" lengthAdjust="spacingAndGlyphs">发射机 Transmitter</text>

<text class="sr" x="71" y="405" textLength="63" lengthAdjust="spacingAndGlyphs">卫星接收</text>
<text class="sb" x="72" y="419" textLength="114" lengthAdjust="spacingAndGlyphs">Satellite Signal</text>
<text class="mo" x="193" y="409" textLength="72" lengthAdjust="spacingAndGlyphs">DNE-6609</text>
<text class="mo" x="193" y="425" textLength="78" lengthAdjust="spacingAndGlyphs">AVS编码器</text>
<text class="mo" x="198" y="441" textLength="99" lengthAdjust="spacingAndGlyphs">AVS Encoder</text>

<text class="mo" x="191" y="485" textLength="72" lengthAdjust="spacingAndGlyphs">DNE-6609</text>
<text class="mo" x="191" y="501" textLength="78" lengthAdjust="spacingAndGlyphs">AVS编码器</text>
<text class="mo" x="196" y="516" textLength="99" lengthAdjust="spacingAndGlyphs">AVS Encoder</text>
<text class="ts" x="286" y="485" textLength="14" lengthAdjust="spacingAndGlyphs">TS</text>
<text class="ts" x="384" y="486" textLength="14" lengthAdjust="spacingAndGlyphs">TS</text>
<text class="mo" x="329" y="528" textLength="63" lengthAdjust="spacingAndGlyphs">DNE3100</text>
<text class="cs" x="329" y="545" textLength="47" lengthAdjust="spacingAndGlyphs">复用器</text>
<text class="mo" x="329" y="561" textLength="100" lengthAdjust="spacingAndGlyphs">Multiplexer</text>
<text class="mo" x="439" y="529" textLength="72" lengthAdjust="spacingAndGlyphs">DNE-3702</text>
<text class="cs" x="439" y="545" textLength="46" lengthAdjust="spacingAndGlyphs">加扰机</text>
<text class="sb" x="439" y="559" textLength="78" lengthAdjust="spacingAndGlyphs" style="font-size:17px">Scrambler</text>
<text class="mo" x="559" y="534" textLength="80" lengthAdjust="spacingAndGlyphs">DNE-6403T</text>
<text class="mo" x="559" y="551" textLength="84" lengthAdjust="spacingAndGlyphs">DTMB激励器</text>
<text class="mo" x="559" y="568" textLength="100" lengthAdjust="spacingAndGlyphs">DTMB Excite</text>
<text class="ts" x="627" y="528" textLength="16" lengthAdjust="spacingAndGlyphs" style="font-size:15px">RF</text>
<text class="sb" x="697" y="557" textLength="139" lengthAdjust="spacingAndGlyphs">发射机 Transmitter</text>

<text class="sb" x="88" y="586" textLength="111" lengthAdjust="spacingAndGlyphs">摄像机/Camera</text>
<text class="mo" x="195" y="563" textLength="72" lengthAdjust="spacingAndGlyphs">DNE-6609</text>
<text class="mo" x="195" y="579" textLength="78" lengthAdjust="spacingAndGlyphs">AVS编码器</text>
<text class="mo" x="200" y="595" textLength="99" lengthAdjust="spacingAndGlyphs">AVS Encoder</text>

<text class="sb" x="77" y="740" textLength="87" lengthAdjust="spacingAndGlyphs" style="font-size:17px">EPG Server</text>
<text class="mo" x="195" y="676" textLength="63" lengthAdjust="spacingAndGlyphs">DNE6301</text>
<text class="cs" x="195" y="691" textLength="84" lengthAdjust="spacingAndGlyphs">码流分配器</text>
<text class="sb" x="194" y="704" textLength="81" lengthAdjust="spacingAndGlyphs">Distributor</text>
<text class="sb" x="365" y="740" textLength="32" lengthAdjust="spacingAndGlyphs" style="font-size:17px">SMS</text>
<text class="sb" x="431" y="740" textLength="33" lengthAdjust="spacingAndGlyphs" style="font-size:17px">CAS</text>
<text class="sr" x="526" y="734" textLength="52" lengthAdjust="spacingAndGlyphs" style="font-size:14px">综合网管</text>
<text class="sb" x="525" y="749" textLength="133" lengthAdjust="spacingAndGlyphs" style="font-size:14px">Network management</text>

<text class="sr" x="1167" y="212" textLength="74" lengthAdjust="spacingAndGlyphs" style="font-size:16px">DNE-4208</text>
<text class="sr" x="1168" y="231" textLength="78" lengthAdjust="spacingAndGlyphs" style="font-size:16px">同频转发器</text>
<text class="sb" x="1168" y="251" textLength="71" lengthAdjust="spacingAndGlyphs">Gap Filler</text>
<text class="sr" x="1166" y="747" textLength="72" lengthAdjust="spacingAndGlyphs" style="font-size:16px">DNE-4208</text>
<text class="sr" x="1166" y="766" textLength="78" lengthAdjust="spacingAndGlyphs" style="font-size:16px">同频转发器</text>
<text class="sb" x="1166" y="785" textLength="71" lengthAdjust="spacingAndGlyphs">Gap Filler</text>
<text class="sr" x="1487" y="348" textLength="63" lengthAdjust="spacingAndGlyphs" style="font-size:16px">固定终端</text>
<text class="sb" x="1487" y="367" textLength="111" lengthAdjust="spacingAndGlyphs">Fixed Terminal</text>
<text class="sr" x="1487" y="495" textLength="63" lengthAdjust="spacingAndGlyphs" style="font-size:16px">手机终端</text>
<text class="sb" x="1487" y="515" textLength="122" lengthAdjust="spacingAndGlyphs">Mobile Terminal</text>
<text class="sr" x="1487" y="668" textLength="63" lengthAdjust="spacingAndGlyphs" style="font-size:16px">车载终端</text>
<text class="sb" x="1487" y="688" textLength="108" lengthAdjust="spacingAndGlyphs">Auto Terminal</text>
</svg>
</body></html>
